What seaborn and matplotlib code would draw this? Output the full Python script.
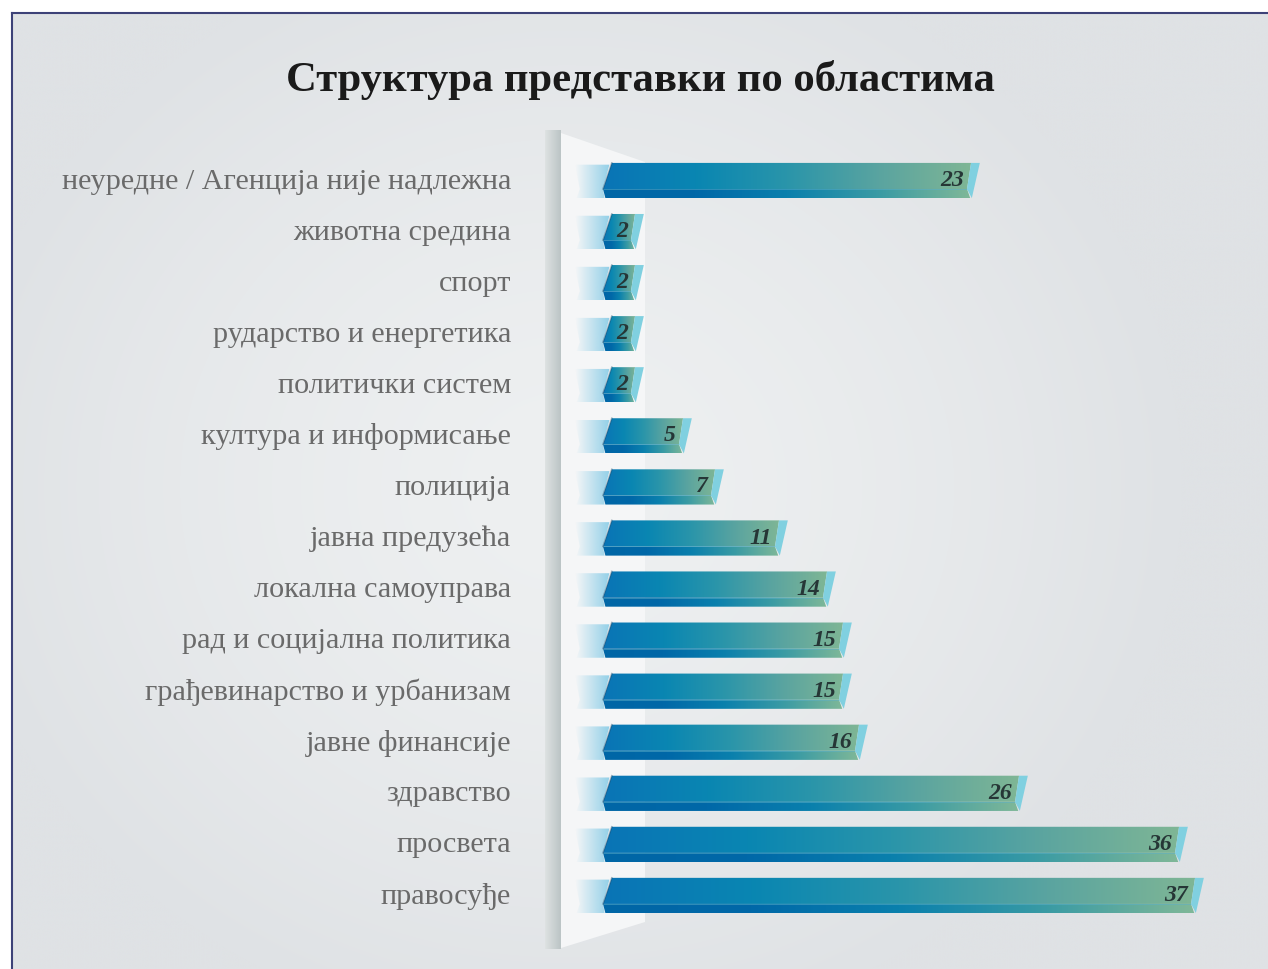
import numpy as np
import pandas as pd
import matplotlib
matplotlib.use('Agg')
import matplotlib.pyplot as plt
import matplotlib.transforms as mtransforms
from matplotlib.colors import LinearSegmentedColormap, to_rgb
from matplotlib.patches import Polygon
import seaborn as sns

# data
areas = ['неуредне / Агенција није надлежна', 'животна средина', 'спорт',
         'рударство и енергетика', 'политички систем', 'култура и информисање',
         'полиција', 'јавна предузећа', 'локална самоуправа',
         'рад и социјална политика', 'грађевинарство и урбанизам',
         'јавне финансије', 'здравство', 'просвета', 'правосуђе']
counts = [23, 2, 2, 2, 2, 5, 7, 11, 14, 15, 15, 16, 26, 36, 37]
title = 'Структура представки по областима'

df = pd.DataFrame({'area': areas, 'count': counts})

W, H = 1268, 969
fig = plt.figure(figsize=(W / 100, H / 100), dpi=100)
fig.patch.set_facecolor('white')

# background panel (pixel coordinates)
bg = fig.add_axes([0, 0, 1, 1], zorder=0)
bg.set_xlim(0, W)
bg.set_ylim(H, 0)
bg.axis('off')
yy, xx = np.mgrid[0:H, 0:W]
r = np.sqrt(((xx - 560) / 620.0) ** 2 + ((yy - 480) / 560.0) ** 2)
r = np.clip(r, 0, 1) ** 1.5
c_in = np.array(to_rgb('#eef0f1'))
c_out = np.array(to_rgb('#dfe2e5'))
img = c_in[None, None, :] * (1 - r[..., None]) + c_out[None, None, :] * r[..., None]
bg.imshow(img, extent=[12, W, H, 13], aspect='auto', interpolation='bilinear')
bg.plot([12, W], [13, 13], color='#3d4278', lw=1.5)
bg.plot([12, 12], [13, H], color='#3d4278', lw=1.5)
# vertical post and white wedge behind the bars
post = np.linspace(0, 1, 16)[None, :, None]
post_img = np.array(to_rgb('#dde1e1')) * (1 - post) + np.array(to_rgb('#bcc5c6')) * post
bg.imshow(post_img, extent=[545, 561, 949, 130], aspect='auto')
wedge = Polygon([(561, 133), (645, 162), (645, 922), (561, 948)], closed=True,
                facecolor='#f5f6f7', edgecolor='none')
bg.add_patch(wedge)

# main axes
ax = fig.add_axes([575 / W, 1 - 921 / H, 645 / W, 766 / H], zorder=2)
ax.patch.set_alpha(0)
sns.barplot(data=df, x='count', y='area', orient='h', width=0.69,
            color='#0a72b5', ax=ax)
ax.set_xlim(-1.75, 38.56)
ax.set_ylim(14.5, -0.5)
ax.set_xlabel('')
ax.set_ylabel('')
ax.set_xticks([])
for s in ax.spines.values():
    s.set_visible(False)
ax.tick_params(axis='y', length=0)

# category labels as text, right-aligned left of the axes
trans = mtransforms.blended_transform_factory(ax.transAxes, ax.transData)
ypos = ax.get_yticks()
names = [t.get_text() for t in ax.get_yticklabels()]
ax.set_yticklabels([])
for pos, name in zip(ypos, names):
    ax.text(-0.0992, pos + 0.02, name, transform=trans, ha='right', va='center',
            fontfamily='Liberation Serif', fontsize=21.7, color='#6a6a6a')

top_cmap = LinearSegmentedColormap.from_list(
    'top', ['#0a74b6', '#0986b2', '#2a95aa', '#5aa4a0', '#7fb695'])
band_cmap = LinearSegmentedColormap.from_list(
    'band', ['#0066a6', '#0068a8', '#0a80ad', '#3a9ba4', '#80b898'])
grad = np.linspace(0, 1, 256)[None, :]

for patch, v in zip(list(ax.patches), counts):
    y0 = patch.get_y()
    h = patch.get_height()
    w = patch.get_width()
    patch.set_visible(False)
    mid = y0 + 0.74 * h
    bot = y0 + h
    # faded stub left of the bar
    stub = Polygon([(-1.75, y0 + 0.05 * h), (0.4, y0 + 0.05 * h), (0.0, mid),
                    (0.1, bot), (-1.65, bot), (-1.45, mid)], closed=True,
                   facecolor='none', edgecolor='none')
    ax.add_patch(stub)
    stub_rgba = np.zeros((1, 64, 4))
    stub_rgba[..., :3] = to_rgb('#86cbe6')
    stub_rgba[..., 3] = np.linspace(0.0, 0.9, 64)
    im = ax.imshow(stub_rgba, extent=[-1.75, 0.4, bot, y0], aspect='auto',
                   interpolation='bilinear', zorder=2)
    im.set_clip_path(stub)
    # top face
    face = Polygon([(0.55, y0), (w, y0), (w - 0.25, mid), (0, mid)], closed=True,
                   facecolor='none', edgecolor='none')
    ax.add_patch(face)
    im = ax.imshow(grad, cmap=top_cmap, extent=[0, w, bot, y0], aspect='auto',
                   interpolation='bilinear', zorder=3)
    im.set_clip_path(face)
    # darker lower band
    band = Polygon([(0, mid), (w - 0.25, mid), (w - 0.05, bot), (0.15, bot)],
                   closed=True, facecolor='none', edgecolor='none')
    ax.add_patch(band)
    im = ax.imshow(grad, cmap=band_cmap, extent=[0, w, bot, y0], aspect='auto',
                   interpolation='bilinear', zorder=3)
    im.set_clip_path(band)
    ax.plot([0, w - 0.25], [mid, mid], color='#5fb0c8', lw=0.6, alpha=0.6, zorder=4)
    # cyan end cap
    cap = Polygon([(w, y0), (w + 0.55, y0), (w + 0.05, bot), (w - 0.25, mid)],
                  closed=True, facecolor='#80d0e0', edgecolor='none', zorder=4)
    ax.add_patch(cap)
    # left shadow
    ax.plot([0.55, 0.0], [y0, mid], color='#1d3f5a', lw=1.2, alpha=0.35, zorder=4)
    ax.text(w - 0.45, y0 + 0.5 * h, str(v), ha='right', va='center',
            fontfamily='Liberation Serif', fontstyle='italic', fontweight='bold',
            fontsize=17, color='#263636', zorder=5)

fig.text(640 / W, 1 - 80 / H, title, ha='center', va='center',
         fontfamily='Liberation Serif', fontweight='bold', fontsize=30.7,
         color='#1a1a1a')

fig.savefig('out.png', dpi=100)
